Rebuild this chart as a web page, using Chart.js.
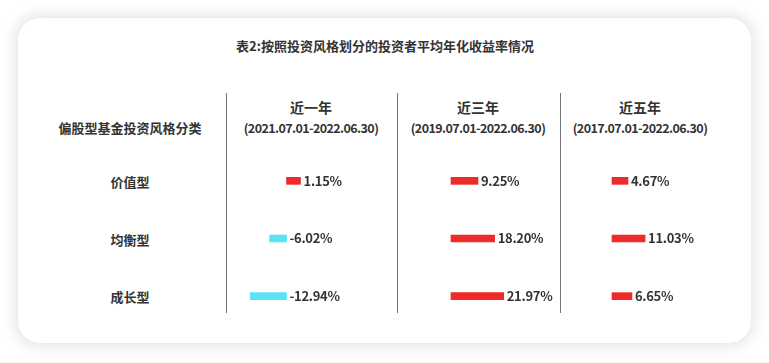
<!DOCTYPE html>
<html>
<head>
<meta charset="utf-8">
<script src="https://cdn.jsdelivr.net/npm/chart.js@4.4.0/dist/chart.umd.min.js"></script>
<style>
  html, body { margin: 0; padding: 0; background: #fff; }
  body { width: 769px; height: 363px; position: relative; overflow: hidden;
         font-family: "Noto Sans CJK SC", "Noto Sans", sans-serif; color: #333; font-weight: bold; }
  .card { position: absolute; left: 18px; top: 18px; width: 733px; height: 325px;
          background: #fff; border-radius: 22px;
          box-shadow: 0 0 14px 4px rgba(0,0,0,0.10); }
  .txt { position: absolute; white-space: nowrap; transform: translate(-50%, -50%); font-size: 13px; }
  .line { position: absolute; top: 93px; height: 220px; width: 1px; background: #777; }
  .col { position: absolute; top: 152px; height: 173px; }
</style>
</head>
<body>
<div class="card"></div>
<div class="txt" style="left:385px; top:45px;">表2:按照投资风格划分的投资者平均年化收益率情况</div>
<div class="txt" style="left:130px; top:127px;">偏股型基金投资风格分类</div>

<div id="labels"></div>
<div class="line" style="left:226px"></div>
<div class="line" style="left:397px"></div>
<div class="line" style="left:560px"></div>

<div class="col" style="left:227px; width:169px"><canvas id="c1"></canvas></div>
<div class="col" style="left:398px; width:161px"><canvas id="c2"></canvas></div>
<div class="col" style="left:561px; width:188px"><canvas id="c3"></canvas></div>

<script>
// 投资风格
const styles = ["价值型", "均衡型", "成长型"];
// 期间
const periods = ["近一年", "近三年", "近五年"];
const ranges = ["(2021.07.01-2022.06.30)", "(2019.07.01-2022.06.30)", "(2017.07.01-2022.06.30)"];
// 平均年化收益率 (%)
const oneYear = [1.15, -6.02, -12.94];
const threeYear = [9.25, 18.20, 21.97];
const fiveYear = [4.67, 11.03, 6.65];

const red = "#ee2b29";
const cyan = "#5ae3f4";

// header + row labels
const lab = document.getElementById("labels");
const colCenters = [311, 478, 640];
periods.forEach((p, i) => {
  lab.innerHTML += `<div class="txt" style="left:${colCenters[i]}px; top:107px; font-size:14px">${p}</div>`;
  lab.innerHTML += `<div class="txt" style="left:${colCenters[i]}px; top:127px; font-size:12.5px; letter-spacing:-0.6px">${ranges[i]}</div>`;
});
const rowY = [181, 239, 296];
styles.forEach((s, i) => {
  lab.innerHTML += `<div class="txt" style="left:130px; top:${rowY[i]}px">${s}</div>`;
});

// value labels after the bar (after zero for negatives)
const valueLabels = {
  id: "valueLabels",
  afterDatasetsDraw(chart) {
    const ctx = chart.ctx;
    const meta = chart.getDatasetMeta(0);
    const zero = chart.scales.x.getPixelForValue(0);
    ctx.save();
    ctx.font = "bold 13px 'Noto Sans CJK SC'";
    ctx.letterSpacing = "-0.3px";
    ctx.fillStyle = "#333";
    ctx.textBaseline = "middle";
    meta.data.forEach((bar, i) => {
      const v = chart.data.datasets[0].data[i];
      const x = v >= 0 ? bar.x + 3 : zero + 3;
      ctx.fillText(v.toFixed(2) + "%", x, bar.y);
    });
    ctx.restore();
  }
};

function makeChart(id, data, min, max, minLen) {
  new Chart(document.getElementById(id), {
    type: "bar",
    data: {
      labels: styles,
      datasets: [{
        data: data,
        backgroundColor: data.map(v => v >= 0 ? red : cyan),
        barThickness: 7,
        minBarLength: minLen
      }]
    },
    options: {
      indexAxis: "y",
      responsive: true,
      maintainAspectRatio: false,
      animation: false,
      layout: { padding: 0 },
      scales: {
        x: { display: false, min: min, max: max },
        y: { display: false }
      },
      plugins: { legend: { display: false }, tooltip: { enabled: false } }
    },
    plugins: [valueLabels]
  });
}

makeChart("c1", oneYear, -21.25, 39.1, 14);
makeChart("c2", threeYear, -22.08, 45, 27);
makeChart("c3", fiveYear, -17, 45.67, 16);
</script>
</body>
</html>
